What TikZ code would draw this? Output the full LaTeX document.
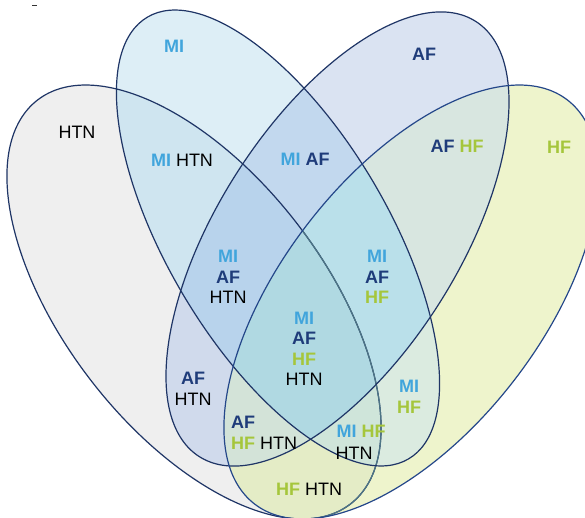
\documentclass[tikz,border=0pt]{standalone}
\usepackage{fontspec}
\setmainfont{Liberation Sans}
\definecolor{cH}{HTML}{EFEFEF}
\definecolor{cM}{HTML}{DDEEF6}
\definecolor{cA}{HTML}{DAE3F2}
\definecolor{cF}{HTML}{EEF4CC}
\definecolor{cHM}{HTML}{CFE5F0}
\definecolor{cHA}{HTML}{D0DAEC}
\definecolor{cHF}{HTML}{E4ECC6}
\definecolor{cMA}{HTML}{C2D8EE}
\definecolor{cMF}{HTML}{DBEBE0}
\definecolor{cAF}{HTML}{D8E6E0}
\definecolor{cHMA}{HTML}{B8D3EC}
\definecolor{cHMF}{HTML}{CFE5DA}
\definecolor{cHAF}{HTML}{D3E3D8}
\definecolor{cMAF}{HTML}{BAE0EA}
\definecolor{cHMAF}{HTML}{B0D9E2}
\definecolor{navy}{HTML}{1F3566}
\definecolor{hfline}{HTML}{24478A}
\definecolor{htnsoft}{HTML}{4D7585}
\definecolor{txtMI}{HTML}{41A5DC}
\definecolor{txtAF}{HTML}{1F3C7A}
\definecolor{txtHF}{HTML}{A5C63B}
\newcommand\tMI{\textcolor{txtMI}{\bfseries MI}}
\newcommand\tAF{\textcolor{txtAF}{\bfseries AF}}
\newcommand\tHF{\textcolor{txtHF}{\bfseries HF}}
\tikzset{
  eH/.style={shift={(194,215)},rotate=-52.2},
  eF/.style={shift={(411,215)},rotate=52.2},
  eM/.style={shift={(278,279)},rotate=-59.4},
  eA/.style={shift={(337.5,278)},rotate=57.6},
  outl/.style={draw=navy,line width=1.2pt},
  lbl/.style={font=\fontsize{18}{20.5}\selectfont,align=center,inner sep=0pt}
}
\newcommand\ClipH{\clip[eH] (0,0) ellipse [x radius=255.5,y radius=129.5];}
\newcommand\ClipF{\clip[eF] (0,0) ellipse [x radius=255.5,y radius=129.5];}
\newcommand\ClipM{\clip[eM] (0,0) ellipse [x radius=256.6,y radius=110.5];}
\newcommand\ClipA{\clip[eA] (0,0) ellipse [x radius=257.8,y radius=120.4];}
\newcommand\FillH[1]{\path[fill=#1,eH] (0,0) ellipse [x radius=255.5,y radius=129.5];}
\newcommand\FillF[1]{\path[fill=#1,eF] (0,0) ellipse [x radius=255.5,y radius=129.5];}
\newcommand\FillM[1]{\path[fill=#1,eM] (0,0) ellipse [x radius=256.6,y radius=110.5];}
\newcommand\FillA[1]{\path[fill=#1,eA] (0,0) ellipse [x radius=257.8,y radius=120.4];}
\begin{document}
\begin{tikzpicture}[x=1pt,y=1pt]
\useasboundingbox (0,0) rectangle (585,517);
\begin{scope}
\clip (0,0) rectangle (585,517);
% single sets
\FillH{cH} \FillM{cM} \FillA{cA} \FillF{cF}
% pairs
\begin{scope}\ClipH \FillM{cHM}\end{scope}
\begin{scope}\ClipH \FillA{cHA}\end{scope}
\begin{scope}\ClipH \FillF{cHF}\end{scope}
\begin{scope}\ClipM \FillA{cMA}\end{scope}
\begin{scope}\ClipM \FillF{cMF}\end{scope}
\begin{scope}\ClipA \FillF{cAF}\end{scope}
% triples
\begin{scope}\ClipH \ClipM \FillA{cHMA}\end{scope}
\begin{scope}\ClipH \ClipM \FillF{cHMF}\end{scope}
\begin{scope}\ClipH \ClipA \FillF{cHAF}\end{scope}
\begin{scope}\ClipM \ClipA \FillF{cMAF}\end{scope}
% all four
\begin{scope}\ClipH \ClipM \ClipA \FillF{cHMAF}\end{scope}
% outlines
\draw[outl,eH] (0,0) ellipse [x radius=255.5,y radius=129.5];
\begin{scope}\ClipF
\draw[outl,draw=htnsoft,eH] (0,0) ellipse [x radius=255.5,y radius=129.5];
\end{scope}
\draw[outl,eM] (0,0) ellipse [x radius=256.6,y radius=110.5];
\draw[outl,eA] (0,0) ellipse [x radius=257.8,y radius=120.4];
\draw[outl,draw=hfline,eF] (0,0) ellipse [x radius=255.5,y radius=129.5];
\end{scope}
% small mark top left
\draw[line width=1pt,draw=black!80] (32,511) -- (37,511);
% labels
\node[lbl] (mi)    at (174,471) {\tMI};
\node[lbl] (af)    at (424,463) {\tAF};
\node[lbl] (htn)   at (77,385)  {HTN};
\node[lbl] (hf)    at (559,370) {\tHF};
\node[lbl] (mihtn) at (182,357) {\tMI{} HTN};
\node[lbl] (miaf)  at (305,358) {\tMI{} \tAF};
\node[lbl] (afhf)  at (457,371) {\tAF{} \tHF};
\node[lbl] (miafhtn) at (228,240) {\tMI\\ \tAF\\ HTN};
\node[lbl] (miafhf)  at (377,240) {\tMI\\ \tAF\\ \tHF};
\node[lbl] (all)     at (304,168) {\tMI\\ \tAF\\ \tHF\\ HTN};
\node[lbl] (afhtn)   at (193,128) {\tAF\\ HTN};
\node[lbl] (afB)     at (243,95)  {\tAF};
\node[lbl] (hfhtnA)  at (264,74)  {\tHF{} HTN};
\node[lbl] (mihf)    at (409,120) {\tMI\\ \tHF};
\node[lbl] (mihfB)   at (361,86)  {\tMI{} \tHF};
\node[lbl] (htnB)    at (354,64)  {HTN};
\node[lbl] (hfhtn)   at (309,28)  {\tHF{} HTN};
\end{tikzpicture}
\end{document}
